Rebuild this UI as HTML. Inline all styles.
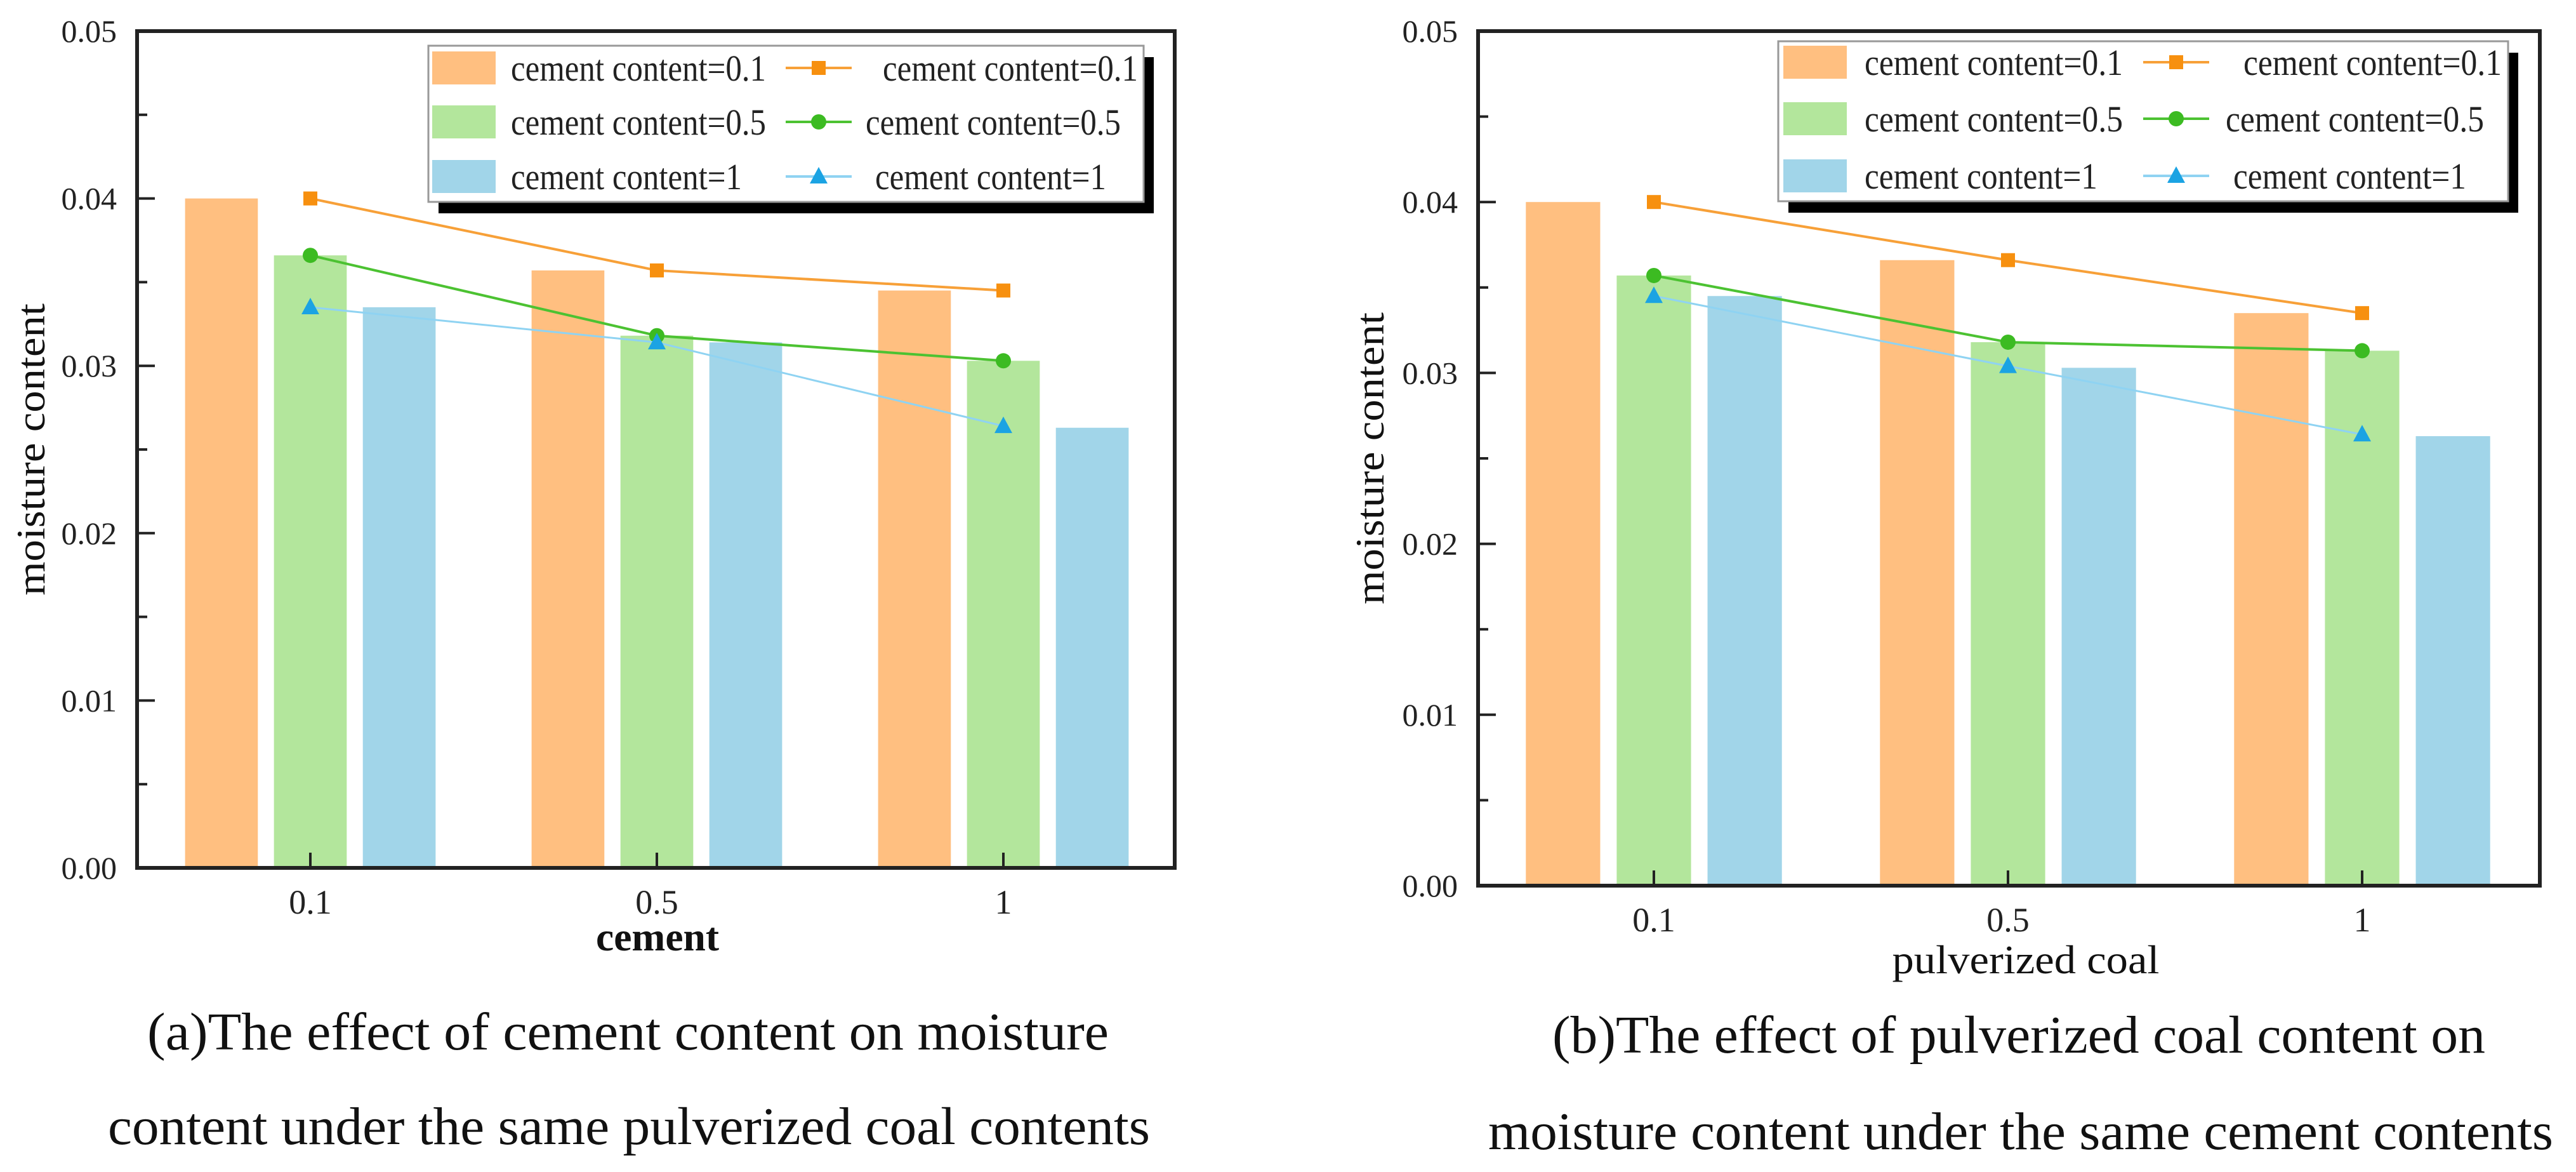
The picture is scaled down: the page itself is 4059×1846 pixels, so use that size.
<!DOCTYPE html>
<html><head><meta charset="utf-8"><style>
html,body{margin:0;padding:0;background:#fff;}
svg{display:block;font-family:"Liberation Serif",serif;}
</style></head><body>
<svg id="svg" width="4059" height="1846" viewBox="0 0 4059 1846" xmlns="http://www.w3.org/2000/svg"></svg>
<script>
const categoriesA = ["0.1","0.5","1"];
const barsA_c01 = [0.0400,0.0357,0.0345];
const barsA_c05 = [0.0366,0.0318,0.0303];
const barsA_c1  = [0.0335,0.0314,0.0263];
const lineA_c01 = [0.0400,0.0357,0.0345];
const lineA_c05 = [0.0366,0.0318,0.0303];
const lineA_c1  = [0.0335,0.0314,0.0264];

const categoriesB = ["0.1","0.5","1"];
const barsB_c01 = [0.0400,0.0366,0.0335];
const barsB_c05 = [0.0357,0.0318,0.0313];
const barsB_c1  = [0.0345,0.0303,0.0263];
const lineB_c01 = [0.0400,0.0366,0.0335];
const lineB_c05 = [0.0357,0.0318,0.0313];
const lineB_c1  = [0.0345,0.0304,0.0264];

const yTicks = [0,0.01,0.02,0.03,0.04,0.05];
const yTickLabels = ["0.00","0.01","0.02","0.03","0.04","0.05"];
const seriesLabels = ["cement content=0.1","cement content=0.5","cement content=1"];

const NS="http://www.w3.org/2000/svg";
const svg=document.getElementById('svg');
function mk(tag,attrs,parent,text){const e=document.createElementNS(NS,tag);for(const k in attrs)e.setAttribute(k,attrs[k]);if(text!==undefined)e.textContent=text;(parent||svg).appendChild(e);return e;}

const barColors=["#FFBF80","#B3E69C","#A1D5E9"];
const lineColors=["#F7A038","#4CC232","#8FD3F2"];
const markColors=["#F7900F","#3CBB22","#1BA3E3"];

function marker(g,type,x,y,c){
  let m;
  if(type===0){m=mk('rect',{x:x-11,y:y-11,width:22,height:22,fill:c},g);}
  else if(type===1){m=mk('circle',{cx:x,cy:y,r:12,fill:c},g);}
  else{m=mk('polygon',{points:`${x},${y-15} ${x+14},${y+11} ${x-14},${y+11}`,fill:c},g);}
  return m;
}

function drawChart(id,cfg,cats,bars,lines){
  const g=mk('g',{});
  
  
  const {L,R,T,B}=cfg;
  const ymax=0.05;
  const yS=v=>B-(v/ymax)*(B-T);
  const step=cfg.step;
  const xS=i=>cfg.x0+i*step;
  const off=step*0.2565, bw=step*0.21;
  bars.forEach((arr,s)=>{
    arr.forEach((v,i)=>{
      const cx=xS(i)+(s-1)*off;
      const r=mk('rect',{x:cx-bw/2,y:yS(v),width:bw,height:B-yS(v),fill:barColors[s]},g);
      
      
    });
  });
  lines.forEach((arr,s)=>{
    const pts=arr.map((v,i)=>`${xS(i)},${yS(v)}`).join(' ');
    const pl=mk('polyline',{points:pts,fill:'none',stroke:lineColors[s],'stroke-width':s===2?3:4},g);
    
    
    arr.forEach((v,i)=>{
      const m=marker(g,s,xS(i),yS(v),markColors[s]);
      
      
    });
  });
  const fr=mk('rect',{x:L,y:T,width:R-L,height:B-T,fill:'none',stroke:'#222','stroke-width':6},g);
  
  
  yTicks.forEach((v,i)=>{
    mk('line',{x1:L,x2:L+28,y1:yS(v),y2:yS(v),stroke:'#222','stroke-width':4},g);
    if(i<yTicks.length-1){const ym=yS(v+0.005);mk('line',{x1:L,x2:L+16,y1:ym,y2:ym,stroke:'#222','stroke-width':4},g);}
    const t=mk('text',{x:L-32,y:yS(v)+17,'font-size':50,'text-anchor':'end',fill:'#222'},g,yTickLabels[i]);
    
    
  });
  cats.forEach((c,i)=>{
    mk('line',{x1:xS(i),x2:xS(i),y1:B,y2:B-24,stroke:'#222','stroke-width':4},g);
    const t=mk('text',{x:xS(i),y:B+72,'font-size':54,'text-anchor':'middle',fill:'#222'},g,c);
    
    
  });
  const xt=mk('text',{x:cfg.xtX-cfg.xtW/2,y:cfg.xtY,'font-size':64,fill:'#111','font-weight':cfg.xtBold?'bold':'normal',textLength:cfg.xtW,lengthAdjust:'spacingAndGlyphs'},g,cfg.xTitle);
  
  
  const yt=mk('text',{x:-230,y:0,'font-size':64,fill:'#111',textLength:460,lengthAdjust:'spacingAndGlyphs',transform:`translate(${cfg.ytX},${(T+B)/2}) rotate(-90)`},g,'moisture content');
  
  
  const lg=mk('g',{},g);
  
  
  const Lg=cfg.leg;
  mk('rect',{x:Lg.x+16,y:Lg.y+18,width:Lg.w,height:Lg.h,fill:'#000'},lg);
  mk('rect',{x:Lg.x,y:Lg.y,width:Lg.w,height:Lg.h,fill:'#fff',stroke:'#999','stroke-width':3},lg);
  seriesLabels.forEach((lab,s)=>{
    const by=Lg.rows[s];
    const cy=by-20;
    const e1=mk('g',{},lg);
    
    
    mk('rect',{x:Lg.sw,y:cy-26,width:100,height:52,fill:barColors[s]},e1);
    mk('text',{x:Lg.t1,y:by,'font-size':58,fill:'#222',textLength:Lg.w1[s],lengthAdjust:'spacingAndGlyphs'},e1,lab);
    const e2=mk('g',{},lg);
    
    
    mk('line',{x1:Lg.ln,x2:Lg.ln+104,y1:cy,y2:cy,stroke:lineColors[s],'stroke-width':4},e2);
    marker(e2,s,Lg.ln+52,cy,markColors[s]);
    mk('text',{x:Lg.t2[s],y:by,'font-size':58,fill:'#222',textLength:Lg.w1[s],lengthAdjust:'spacingAndGlyphs'},e2,lab);
  });
  cfg.caps.forEach((c,k)=>{
    const t=mk('text',{x:c.x,y:c.y,'font-size':84,fill:'#111',textLength:c.w,lengthAdjust:'spacingAndGlyphs'},g,c.t);
    
    
  });
}

drawChart('chart-a',{L:216,R:1851,T:49,B:1367,x0:489,step:546,xTitle:'cement',xtX:1036,xtW:194,xtY:1497,xtBold:true,ytX:70,
  leg:{x:675,y:72,w:1127,h:246,rows:[127,212,298],sw:681,t1:805,w1:[402,402,364],ln:1238,t2:[1391,1364,1379]},
  caps:[{x:232,y:1653,w:1515,t:'(a)The effect of cement content on moisture'},{x:170,y:1802,w:1642,t:'content under the same pulverized coal contents'}]
},categoriesA,[barsA_c01,barsA_c05,barsA_c1],[lineA_c01,lineA_c05,lineA_c1]);

drawChart('chart-b',{L:2329,R:4002,T:49,B:1395,x0:2606,step:558,xTitle:'pulverized coal',xtX:3192,xtW:421,xtY:1533,xtBold:false,ytX:2180,
  leg:{x:2802,y:65,w:1150,h:252,rows:[118,207,297],sw:2810,t1:2938,w1:[407,407,367],ln:3377,t2:[3535,3507,3519]},
  caps:[{x:2446,y:1658,w:1470,t:'(b)The effect of pulverized coal content on'},{x:2345,y:1810,w:1678,t:'moisture content under the same cement contents'}]
},categoriesB,[barsB_c01,barsB_c05,barsB_c1],[lineB_c01,lineB_c05,lineB_c1]);
</script>
</body></html>
